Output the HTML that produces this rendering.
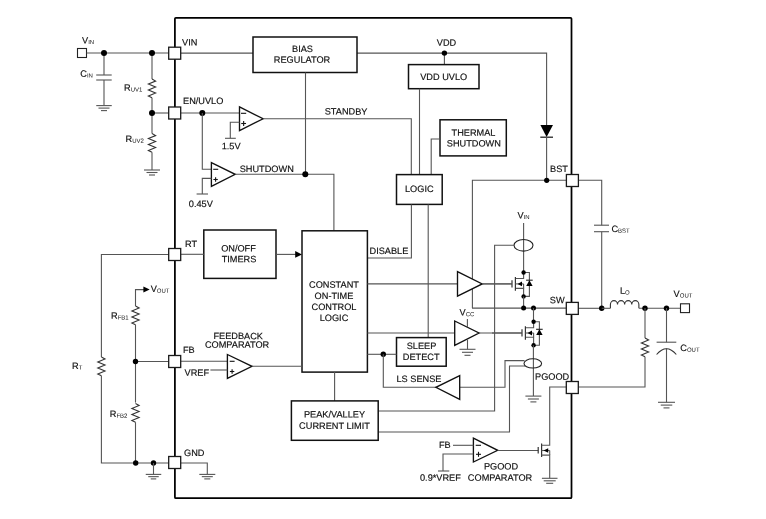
<!DOCTYPE html><html><head><meta charset="utf-8"><style>html,body{margin:0;padding:0;background:#fff;}svg{display:block;filter:grayscale(1);}text{font-family:"Liberation Sans",sans-serif;stroke:#000;stroke-width:0.15px;}</style></head><body><svg width="766" height="519" viewBox="0 0 766 519" font-family="Liberation Sans, sans-serif" fill="#111">
<rect width="766" height="519" fill="#fff"/>
<rect x="174.9" y="17.8" width="396.6" height="480.4" rx="1" fill="none" stroke="#000" stroke-width="1.75"/>
<rect x="77.5" y="48.5" width="9" height="9" fill="#fff" stroke="#222" stroke-width="1.1"/>
<text transform="translate(82,43.4) rotate(0.05) scale(1,1)" font-size="9.2">V<tspan font-size="6.0" dy="0.7" style="stroke-width:0">IN</tspan></text>
<line x1="86.5" y1="53" x2="169" y2="53" stroke="#555" stroke-width="1.1"/>
<line x1="104" y1="53" x2="104" y2="75" stroke="#555" stroke-width="1.1"/>
<line x1="96.2" y1="75" x2="111.7" y2="75" stroke="#555" stroke-width="1.1"/>
<line x1="96.2" y1="80" x2="111.7" y2="80" stroke="#555" stroke-width="1.1"/>
<line x1="104" y1="80" x2="104" y2="105.6" stroke="#555" stroke-width="1.1"/>
<line x1="96.25" y1="105.6" x2="111.75" y2="105.6" stroke="#555" stroke-width="1.1"/>
<line x1="98.5" y1="108.1" x2="109.5" y2="108.1" stroke="#555" stroke-width="1.1"/>
<line x1="101.0" y1="110.6" x2="107.0" y2="110.6" stroke="#555" stroke-width="1.1"/>
<text transform="translate(80.3,76.8) rotate(0.05) scale(1,1)" font-size="9.2">C<tspan font-size="6.0" dy="0.7" style="stroke-width:0">IN</tspan></text>
<line x1="152" y1="53" x2="152" y2="79.1" stroke="#555" stroke-width="1.1"/>
<path d="M152,79.1 l3.6,2 l-7.2,3 l7.2,3 l-7.2,3 l7.2,3 l-7.2,3 l3.6,1.7" fill="none" stroke="#333" stroke-width="1.1" stroke-linejoin="miter"/>
<line x1="152" y1="97.8" x2="152" y2="133.6" stroke="#555" stroke-width="1.1"/>
<text transform="translate(124,90.7) rotate(0.05) scale(1,1)" font-size="9.2">R<tspan font-size="6.0" dy="0.7" style="stroke-width:0">UV1</tspan></text>
<line x1="152" y1="113" x2="169" y2="113" stroke="#555" stroke-width="1.1"/>
<path d="M152,133.6 l3.6,2 l-7.2,3 l7.2,3 l-7.2,3 l7.2,3 l-7.2,3 l3.6,1.7" fill="none" stroke="#333" stroke-width="1.1" stroke-linejoin="miter"/>
<line x1="152" y1="152.3" x2="152" y2="170" stroke="#555" stroke-width="1.1"/>
<line x1="144.0" y1="170" x2="160.0" y2="170" stroke="#555" stroke-width="1.1"/>
<line x1="146.5" y1="172.5" x2="157.5" y2="172.5" stroke="#555" stroke-width="1.1"/>
<line x1="149.0" y1="175.0" x2="155.0" y2="175.0" stroke="#555" stroke-width="1.1"/>
<text transform="translate(125.5,142.0) rotate(0.05) scale(1,1)" font-size="9.2">R<tspan font-size="6.0" dy="0.7" style="stroke-width:0">UV2</tspan></text>
<circle cx="104" cy="53" r="3" fill="#000"/>
<circle cx="152" cy="53" r="3" fill="#000"/>
<circle cx="152" cy="113" r="3" fill="#000"/>
<polyline points="169,254.5 101.4,254.5 101.4,357" fill="none" stroke="#555" stroke-width="1.1"/>
<path d="M101.4,357 l3.6,2 l-7.2,3 l7.2,3 l-7.2,3 l7.2,3 l-7.2,3 l3.6,1.7" fill="none" stroke="#333" stroke-width="1.1" stroke-linejoin="miter"/>
<polyline points="101.4,375.7 101.4,463 169,463" fill="none" stroke="#555" stroke-width="1.1"/>
<text transform="translate(72,368.9) rotate(0.05) scale(1,1)" font-size="9.2">R<tspan font-size="6.0" dy="0.7" style="stroke-width:0">T</tspan></text>
<polyline points="135.5,306 135.5,289.6 144,289.6" fill="none" stroke="#555" stroke-width="1.1"/>
<polygon points="149.7,289.5 143.4,286.4 143.4,292.6" fill="#000"/>
<text transform="translate(150.7,292.0) rotate(0.05) scale(1,1)" font-size="9.2">V<tspan font-size="6.0" dy="0.7" style="stroke-width:0">OUT</tspan></text>
<path d="M135.5,306 l3.6,2 l-7.2,3 l7.2,3 l-7.2,3 l7.2,3 l-7.2,3 l3.6,1.7" fill="none" stroke="#333" stroke-width="1.1" stroke-linejoin="miter"/>
<line x1="135.5" y1="324.7" x2="135.5" y2="402.6" stroke="#555" stroke-width="1.1"/>
<text transform="translate(111,318.8) rotate(0.05) scale(1,1)" font-size="9.2">R<tspan font-size="6.0" dy="0.7" style="stroke-width:0">FB1</tspan></text>
<line x1="135.5" y1="361.5" x2="169" y2="361.5" stroke="#555" stroke-width="1.1"/>
<circle cx="135.5" cy="361.5" r="2.7" fill="#000"/>
<path d="M135.5,403.5 l3.6,2 l-7.2,3 l7.2,3 l-7.2,3 l7.2,3 l-7.2,3 l3.6,1.7" fill="none" stroke="#333" stroke-width="1.1" stroke-linejoin="miter"/>
<line x1="135.5" y1="422.2" x2="135.5" y2="463" stroke="#555" stroke-width="1.1"/>
<text transform="translate(109.8,417.1) rotate(0.05) scale(1,1)" font-size="9.2">R<tspan font-size="6.0" dy="0.7" style="stroke-width:0">FB2</tspan></text>
<circle cx="135.7" cy="463" r="2.7" fill="#000"/>
<circle cx="153.5" cy="463" r="2.7" fill="#000"/>
<line x1="153.5" y1="463" x2="153.5" y2="474.4" stroke="#555" stroke-width="1.1"/>
<line x1="145.75" y1="474.4" x2="161.25" y2="474.4" stroke="#555" stroke-width="1.1"/>
<line x1="148.25" y1="476.65" x2="158.75" y2="476.65" stroke="#555" stroke-width="1.1"/>
<line x1="150.75" y1="478.9" x2="156.25" y2="478.9" stroke="#555" stroke-width="1.1"/>
<polyline points="181,463 207.3,463 207.3,474.4" fill="none" stroke="#555" stroke-width="1.1"/>
<line x1="199.3" y1="474.4" x2="215.3" y2="474.4" stroke="#555" stroke-width="1.1"/>
<line x1="201.8" y1="476.65" x2="212.8" y2="476.65" stroke="#555" stroke-width="1.1"/>
<line x1="204.3" y1="478.9" x2="210.3" y2="478.9" stroke="#555" stroke-width="1.1"/>
<line x1="181" y1="53.1" x2="253" y2="53.1" stroke="#555" stroke-width="1.1"/>
<polyline points="357,53.1 546.6,53.1 546.6,125" fill="none" stroke="#555" stroke-width="1.1"/>
<rect x="253" y="37" width="104" height="35.5" fill="#fff" stroke="#111" stroke-width="1.5"/>
<text transform="translate(302.5,52.0) rotate(0.05) scale(1,1)" font-size="9.2" text-anchor="middle">BIAS</text>
<text transform="translate(302,62.8) rotate(0.05) scale(1,1)" font-size="9.2" text-anchor="middle">REGULATOR</text>
<line x1="305.5" y1="72.5" x2="305.5" y2="174.3" stroke="#555" stroke-width="1.1"/>
<line x1="444.4" y1="53.1" x2="444.4" y2="64.6" stroke="#555" stroke-width="1.1"/>
<circle cx="444.4" cy="53.1" r="2.7" fill="#000"/>
<text transform="translate(446.5,45.7) rotate(0.05) scale(1,1)" font-size="9.2" text-anchor="middle">VDD</text>
<rect x="408.5" y="64.6" width="70.5" height="24.10000000000001" fill="#fff" stroke="#111" stroke-width="1.5"/>
<text transform="translate(443.7,80.0) rotate(0.05) scale(1,1)" font-size="9.2" text-anchor="middle">VDD UVLO</text>
<line x1="419.5" y1="88.7" x2="419.5" y2="174.6" stroke="#555" stroke-width="1.1"/>
<polygon points="540.4,125 553,125 546.6,137" fill="#000"/>
<line x1="540.3" y1="137.2" x2="553" y2="137.2" stroke="#222" stroke-width="1.3"/>
<line x1="546.6" y1="137" x2="546.6" y2="180.3" stroke="#555" stroke-width="1.1"/>
<line x1="181" y1="113" x2="239.5" y2="113" stroke="#555" stroke-width="1.1"/>
<circle cx="202.3" cy="113" r="3" fill="#000"/>
<polyline points="202.3,113 202.3,169.3 211.4,169.3" fill="none" stroke="#555" stroke-width="1.1"/>
<polygon points="239.5,106.9 263.1,118.75 239.5,130.7" fill="#fff" stroke="#111" stroke-width="1.35"/>
<line x1="241" y1="113.3" x2="246.2" y2="113.3" stroke="#111" stroke-width="1.1"/>
<line x1="241.25" y1="123.5" x2="246.05" y2="123.5" stroke="#111" stroke-width="1.1"/>
<line x1="243.65" y1="121.1" x2="243.65" y2="125.9" stroke="#111" stroke-width="1.1"/>
<polyline points="239.5,122.2 230.3,122.2 230.3,138.3" fill="none" stroke="#555" stroke-width="1.1"/>
<line x1="225" y1="138.3" x2="235.8" y2="138.3" stroke="#555" stroke-width="1.1"/>
<text transform="translate(221.7,149.2) rotate(0.05) scale(1,1)" font-size="9.2" text-anchor="start">1.5V</text>
<polyline points="263.1,118.7 411.3,118.7 411.3,174.6" fill="none" stroke="#555" stroke-width="1.1"/>
<text transform="translate(324.7,114.6) rotate(0.05) scale(1,1)" font-size="9.2" text-anchor="start">STANDBY</text>
<polygon points="211.4,162.6 235.2,174.3 211.4,186.4" fill="#fff" stroke="#111" stroke-width="1.35"/>
<line x1="213.2" y1="169.3" x2="218.2" y2="169.3" stroke="#111" stroke-width="1.1"/>
<line x1="213.4" y1="179.5" x2="217.79999999999998" y2="179.5" stroke="#111" stroke-width="1.1"/>
<line x1="215.6" y1="177.3" x2="215.6" y2="181.7" stroke="#111" stroke-width="1.1"/>
<polyline points="211.4,178.4 202.3,178.4 202.3,194" fill="none" stroke="#555" stroke-width="1.1"/>
<line x1="196.6" y1="194" x2="208" y2="194" stroke="#555" stroke-width="1.1"/>
<text transform="translate(188.8,207.1) rotate(0.05) scale(1,1)" font-size="9.2" text-anchor="start">0.45V</text>
<text transform="translate(239.7,172.0) rotate(0.05) scale(1,1)" font-size="9.2" text-anchor="start">SHUTDOWN</text>
<polyline points="235.2,174.3 333.9,174.3 333.9,230.8" fill="none" stroke="#555" stroke-width="1.1"/>
<circle cx="305.3" cy="174.3" r="3" fill="#000"/>
<rect x="440" y="119.8" width="66.30000000000001" height="36.10000000000001" fill="#fff" stroke="#111" stroke-width="1.5"/>
<text transform="translate(473.5,135.7) rotate(0.05) scale(1,1)" font-size="9.2" text-anchor="middle">THERMAL</text>
<text transform="translate(473.8,146.5) rotate(0.05) scale(1,1)" font-size="9.2" text-anchor="middle">SHUTDOWN</text>
<polyline points="440,139 431.2,139 431.2,174.6" fill="none" stroke="#555" stroke-width="1.1"/>
<rect x="396.5" y="174.6" width="45.69999999999999" height="29.80000000000001" fill="#fff" stroke="#111" stroke-width="1.5"/>
<text transform="translate(419.3,192.0) rotate(0.05) scale(1,1)" font-size="9.2" text-anchor="middle">LOGIC</text>
<polyline points="411.4,204.4 411.4,258 367.4,258" fill="none" stroke="#555" stroke-width="1.1"/>
<text transform="translate(369.5,253.9) rotate(0.05) scale(1,1)" font-size="9.2" text-anchor="start">DISABLE</text>
<line x1="428.2" y1="204.4" x2="428.2" y2="337" stroke="#555" stroke-width="1.1"/>
<polyline points="472.4,308.1 472.4,180.3 566.5,180.3" fill="none" stroke="#555" stroke-width="1.1"/>
<circle cx="546.7" cy="180.3" r="2.6" fill="#000"/>
<polyline points="578.5,180.3 601.7,180.3 601.7,225.2" fill="none" stroke="#555" stroke-width="1.1"/>
<line x1="594" y1="225.2" x2="609" y2="225.2" stroke="#555" stroke-width="1.1"/>
<line x1="594" y1="231.7" x2="609" y2="231.7" stroke="#555" stroke-width="1.1"/>
<line x1="601.7" y1="231.7" x2="601.7" y2="308.3" stroke="#555" stroke-width="1.1"/>
<text transform="translate(611.4,232.1) rotate(0.05) scale(1,1)" font-size="9.2">C<tspan font-size="6.0" dy="0.7" style="stroke-width:0">BST</tspan></text>
<rect x="203.8" y="230" width="72.19999999999999" height="48.39999999999998" fill="#fff" stroke="#111" stroke-width="1.5"/>
<text transform="translate(238.5,251.4) rotate(0.05) scale(1,1)" font-size="9.2" text-anchor="middle">ON/OFF</text>
<text transform="translate(239,262.2) rotate(0.05) scale(1,1)" font-size="9.2" text-anchor="middle">TIMERS</text>
<line x1="181" y1="254.3" x2="203.8" y2="254.3" stroke="#555" stroke-width="1.1"/>
<line x1="276" y1="254.4" x2="296" y2="254.4" stroke="#555" stroke-width="1.1"/>
<polygon points="302,254.4 295.2,251 295.2,257.8" fill="#000"/>
<rect x="302" y="230.8" width="65.39999999999998" height="141.3" fill="#fff" stroke="#111" stroke-width="1.5"/>
<text transform="translate(334,287.8) rotate(0.05) scale(1,1)" font-size="9.2" text-anchor="middle">CONSTANT</text>
<text transform="translate(334,299.1) rotate(0.05) scale(1,1)" font-size="9.2" text-anchor="middle">ON-TIME</text>
<text transform="translate(334,310.1) rotate(0.05) scale(1,1)" font-size="9.2" text-anchor="middle">CONTROL</text>
<text transform="translate(334,320.9) rotate(0.05) scale(1,1)" font-size="9.2" text-anchor="middle">LOGIC</text>
<text transform="translate(517.4,218.4) rotate(0.05) scale(1,1)" font-size="9.2">V<tspan font-size="6.0" dy="0.7" style="stroke-width:0">IN</tspan></text>
<line x1="523.6" y1="223" x2="523.6" y2="272.5" stroke="#555" stroke-width="1.1"/>
<ellipse cx="523.5" cy="245.3" rx="9.5" ry="5.8" fill="none" stroke="#222" stroke-width="1.1"/>
<polyline points="514,245.3 494.6,245.3 494.6,411 378.2,411" fill="none" stroke="#555" stroke-width="1.1"/>
<line x1="367.4" y1="283.9" x2="457.5" y2="283.9" stroke="#555" stroke-width="1.1"/>
<polygon points="457.5,271.6 482.2,283.9 457.5,296.2" fill="#fff" stroke="#111" stroke-width="1.35"/>
<line x1="482.2" y1="283.9" x2="512" y2="283.9" stroke="#555" stroke-width="1.1"/>
<polyline points="523.6,272.5 523.6,278.5 515.4,278.5" fill="none" stroke="#555" stroke-width="1.1"/>
<polyline points="523.6,296.4 523.6,288.4 515.4,288.4" fill="none" stroke="#555" stroke-width="1.1"/>
<line x1="515.4" y1="277.1" x2="515.4" y2="290.79999999999995" stroke="#333" stroke-width="1.2"/>
<line x1="512.0" y1="280.2" x2="512.0" y2="287.5" stroke="#333" stroke-width="1.2"/>
<line x1="482.0" y1="283.9" x2="512.0" y2="283.9" stroke="#555" stroke-width="1.1"/>
<line x1="515.4" y1="283.9" x2="523.6" y2="283.9" stroke="#555" stroke-width="1.1"/>
<polygon points="517.6,283.9 522.0,281.5 522.0,286.29999999999995" fill="#000"/>
<line x1="523.6" y1="283.9" x2="523.6" y2="288.4" stroke="#555" stroke-width="1.1"/>
<polyline points="523.6,272.5 529.4,272.5 529.4,296.4 523.6,296.4" fill="none" stroke="#555" stroke-width="1.1"/>
<polygon points="529.4,280.2 532.6,286.0 526.1999999999999,286.0" fill="#000"/>
<line x1="526.1" y1="280.2" x2="532.6999999999999" y2="280.2" stroke="#222" stroke-width="1.1"/>
<circle cx="523.6" cy="272.5" r="2.2" fill="#000"/>
<circle cx="523.6" cy="296.4" r="2.2" fill="#000"/>
<polyline points="523.6,296.4 523.6,307.7" fill="none" stroke="#555" stroke-width="1.1"/>
<line x1="472" y1="308.1" x2="566" y2="308.1" stroke="#555" stroke-width="1.1"/>
<circle cx="523.6" cy="308.1" r="2.5" fill="#000"/>
<circle cx="533.5" cy="308.1" r="2.5" fill="#000"/>
<line x1="533.5" y1="308.1" x2="533.5" y2="321.7" stroke="#555" stroke-width="1.1"/>
<line x1="367.4" y1="333" x2="454.7" y2="333" stroke="#555" stroke-width="1.1"/>
<polygon points="454.7,321 479,333 454.7,345.3" fill="#fff" stroke="#111" stroke-width="1.35"/>
<line x1="479" y1="333" x2="522" y2="333" stroke="#555" stroke-width="1.1"/>
<polyline points="533.6,321.7 533.6,327.7 525.4,327.7" fill="none" stroke="#555" stroke-width="1.1"/>
<polyline points="533.6,345.3 533.6,337.3 525.4,337.3" fill="none" stroke="#555" stroke-width="1.1"/>
<line x1="525.4" y1="326.3" x2="525.4" y2="339.7" stroke="#333" stroke-width="1.2"/>
<line x1="522.0" y1="329.3" x2="522.0" y2="336.6" stroke="#333" stroke-width="1.2"/>
<line x1="492.0" y1="333" x2="522.0" y2="333" stroke="#555" stroke-width="1.1"/>
<line x1="525.4" y1="333" x2="533.6" y2="333" stroke="#555" stroke-width="1.1"/>
<polygon points="527.6,333 532.0,330.6 532.0,335.4" fill="#000"/>
<line x1="533.6" y1="333" x2="533.6" y2="337.3" stroke="#555" stroke-width="1.1"/>
<polyline points="533.6,321.7 539.4,321.7 539.4,345.3 533.6,345.3" fill="none" stroke="#555" stroke-width="1.1"/>
<polygon points="539.4,329.3 542.6,335.1 536.1999999999999,335.1" fill="#000"/>
<line x1="536.1" y1="329.3" x2="542.6999999999999" y2="329.3" stroke="#222" stroke-width="1.1"/>
<circle cx="533.6" cy="321.7" r="2.2" fill="#000"/>
<circle cx="533.6" cy="345.3" r="2.2" fill="#000"/>
<text transform="translate(459.6,315.5) rotate(0.05) scale(1,1)" font-size="9.2">V<tspan font-size="6.0" dy="0.7" style="stroke-width:0">CC</tspan></text>
<line x1="467.4" y1="319" x2="467.4" y2="327.3" stroke="#555" stroke-width="1.1"/>
<line x1="467.5" y1="339.3" x2="467.5" y2="349.3" stroke="#555" stroke-width="1.1"/>
<line x1="459.5" y1="349.3" x2="475.5" y2="349.3" stroke="#555" stroke-width="1.1"/>
<line x1="462.0" y1="352.3" x2="473.0" y2="352.3" stroke="#555" stroke-width="1.1"/>
<line x1="464.5" y1="355.3" x2="470.5" y2="355.3" stroke="#555" stroke-width="1.1"/>
<line x1="533.4" y1="345.3" x2="533.4" y2="396.1" stroke="#555" stroke-width="1.1"/>
<ellipse cx="532.8" cy="363.4" rx="8.8" ry="4.6" fill="none" stroke="#222" stroke-width="1.1"/>
<line x1="525.4" y1="396.1" x2="541.4" y2="396.1" stroke="#555" stroke-width="1.1"/>
<line x1="527.9" y1="399.0" x2="538.9" y2="399.0" stroke="#555" stroke-width="1.1"/>
<line x1="530.4" y1="401.90000000000003" x2="536.4" y2="401.90000000000003" stroke="#555" stroke-width="1.1"/>
<polyline points="524.5,360.6 505,360.6 505,387.2 459.7,387.2" fill="none" stroke="#555" stroke-width="1.1"/>
<polyline points="525,366 509.5,366 509.5,432 378.2,432" fill="none" stroke="#555" stroke-width="1.1"/>
<rect x="396.5" y="337.6" width="49.69999999999999" height="28.599999999999966" fill="#fff" stroke="#111" stroke-width="1.5"/>
<text transform="translate(421.5,348.9) rotate(0.05) scale(1,1)" font-size="9.2" text-anchor="middle">SLEEP</text>
<text transform="translate(421.2,360.0) rotate(0.05) scale(1,1)" font-size="9.2" text-anchor="middle">DETECT</text>
<polyline points="367.4,354.3 396.5,354.3" fill="none" stroke="#555" stroke-width="1.1"/>
<circle cx="383.3" cy="354.3" r="2.7" fill="#000"/>
<polyline points="383.3,354.3 383.3,387.3 436,387.3" fill="none" stroke="#555" stroke-width="1.1"/>
<polygon points="459.7,375.6 435.9,387.3 459.7,399.4" fill="#fff" stroke="#111" stroke-width="1.35"/>
<text transform="translate(396.5,382.0) rotate(0.05) scale(1,1)" font-size="9.2" text-anchor="start">LS SENSE</text>
<line x1="334.6" y1="372.1" x2="334.6" y2="400.9" stroke="#555" stroke-width="1.1"/>
<rect x="291.4" y="400.9" width="86.80000000000001" height="39.400000000000034" fill="#fff" stroke="#111" stroke-width="1.5"/>
<text transform="translate(334.5,417.6) rotate(0.05) scale(1,1)" font-size="9.2" text-anchor="middle">PEAK/VALLEY</text>
<text transform="translate(334.5,428.9) rotate(0.05) scale(1,1)" font-size="9.2" text-anchor="middle">CURRENT LIMIT</text>
<line x1="181" y1="361.3" x2="227.4" y2="361.3" stroke="#555" stroke-width="1.1"/>
<polygon points="227.4,354.5 252,366.3 227.4,378.3" fill="#fff" stroke="#111" stroke-width="1.35"/>
<line x1="229.7" y1="361.3" x2="234.6" y2="361.3" stroke="#111" stroke-width="1.1"/>
<line x1="229.9" y1="371.5" x2="234.29999999999998" y2="371.5" stroke="#111" stroke-width="1.1"/>
<line x1="232.1" y1="369.3" x2="232.1" y2="373.7" stroke="#111" stroke-width="1.1"/>
<line x1="210.4" y1="370" x2="227.4" y2="370" stroke="#555" stroke-width="1.1"/>
<text transform="translate(184.6,375.7) rotate(0.05) scale(1,1)" font-size="9.2" text-anchor="start">VREF</text>
<text transform="translate(213.4,339.1) rotate(0.05) scale(1,1)" font-size="9.2" text-anchor="start">FEEDBACK</text>
<text transform="translate(204.9,347.7) rotate(0.05) scale(1,1)" font-size="9.2" text-anchor="start">COMPARATOR</text>
<line x1="252" y1="366.3" x2="302" y2="366.3" stroke="#555" stroke-width="1.1"/>
<line x1="578" y1="308.3" x2="601.7" y2="308.3" stroke="#555" stroke-width="1.1"/>
<circle cx="601.7" cy="308.3" r="2.7" fill="#000"/>
<path d="M610.4,308.3 V304.6 a3.56,4 0 0 1 7.12,0 a3.56,4 0 0 1 7.12,0 a3.56,4 0 0 1 7.12,0 a3.56,4 0 0 1 7.12,0 V308.3" fill="none" stroke="#333" stroke-width="1.1"/>
<line x1="601.7" y1="308.3" x2="610.4" y2="308.3" stroke="#555" stroke-width="1.1"/>
<line x1="638.9" y1="308.3" x2="680.3" y2="308.3" stroke="#555" stroke-width="1.1"/>
<circle cx="645" cy="308.3" r="2.7" fill="#000"/>
<circle cx="666.5" cy="308.3" r="2.7" fill="#000"/>
<text transform="translate(620,293.7) rotate(0.05) scale(1,1)" font-size="9.2">L<tspan font-size="6.0" dy="0.7" style="stroke-width:0">O</tspan></text>
<rect x="680.5" y="303.8" width="9" height="8.8" fill="#fff" stroke="#222" stroke-width="1.1"/>
<text transform="translate(673.6,296.9) rotate(0.05) scale(1,1)" font-size="9.2">V<tspan font-size="6.0" dy="0.7" style="stroke-width:0">OUT</tspan></text>
<line x1="645" y1="308" x2="645" y2="338" stroke="#555" stroke-width="1.1"/>
<path d="M645,338 l3.6,2 l-7.2,3 l7.2,3 l-7.2,3 l7.2,3 l-7.2,3 l3.6,1.7" fill="none" stroke="#333" stroke-width="1.1" stroke-linejoin="miter"/>
<polyline points="645,356.7 645,387 578,387" fill="none" stroke="#555" stroke-width="1.1"/>
<line x1="666.5" y1="308" x2="666.5" y2="342.2" stroke="#555" stroke-width="1.1"/>
<line x1="656.6" y1="342.2" x2="676.3" y2="342.2" stroke="#555" stroke-width="1.1"/>
<path d="M656.6,354.5 Q666.5,343 676.3,354.5" fill="none" stroke="#333" stroke-width="1.1"/>
<line x1="666.5" y1="348" x2="666.5" y2="402.3" stroke="#555" stroke-width="1.1"/>
<line x1="658.0" y1="402.3" x2="675.0" y2="402.3" stroke="#555" stroke-width="1.1"/>
<line x1="660.75" y1="405.1" x2="672.25" y2="405.1" stroke="#555" stroke-width="1.1"/>
<line x1="663.5" y1="407.90000000000003" x2="669.5" y2="407.90000000000003" stroke="#555" stroke-width="1.1"/>
<text transform="translate(680.3,351.0) rotate(0.05) scale(1,1)" font-size="9.2">C<tspan font-size="6.0" dy="0.7" style="stroke-width:0">OUT</tspan></text>
<polygon points="473.4,438.2 497.7,450.3 473.4,462" fill="#fff" stroke="#111" stroke-width="1.35"/>
<line x1="475.7" y1="445.3" x2="481" y2="445.3" stroke="#111" stroke-width="1.1"/>
<line x1="476.0" y1="454.3" x2="481.0" y2="454.3" stroke="#111" stroke-width="1.1"/>
<line x1="478.5" y1="451.8" x2="478.5" y2="456.8" stroke="#111" stroke-width="1.1"/>
<text transform="translate(439,447.9) rotate(0.05) scale(1,1)" font-size="9.2" text-anchor="start">FB</text>
<line x1="453" y1="445.3" x2="473.4" y2="445.3" stroke="#555" stroke-width="1.1"/>
<polyline points="473.4,454 443,454 443,471" fill="none" stroke="#555" stroke-width="1.1"/>
<line x1="438" y1="471" x2="449.3" y2="471" stroke="#555" stroke-width="1.1"/>
<text transform="translate(420,480.8) rotate(0.05) scale(1,1)" font-size="9.2" text-anchor="start">0.9*VREF</text>
<text transform="translate(501,469.4) rotate(0.05) scale(1,1)" font-size="9.2" text-anchor="middle">PGOOD</text>
<text transform="translate(500,480.8) rotate(0.05) scale(1,1)" font-size="9.2" text-anchor="middle">COMPARATOR</text>
<line x1="497.7" y1="450.5" x2="538.2" y2="450.5" stroke="#555" stroke-width="1.1"/>
<line x1="538.2" y1="446.9" x2="538.2" y2="453.6" stroke="#333" stroke-width="1.2"/>
<line x1="541.6" y1="443.6" x2="541.6" y2="457" stroke="#333" stroke-width="1.2"/>
<polyline points="566,387 549.7,387 549.7,445.3 541.6,445.3" fill="none" stroke="#555" stroke-width="1.1"/>
<line x1="541.6" y1="450.5" x2="549.7" y2="450.5" stroke="#555" stroke-width="1.1"/>
<polygon points="543.6,450.5 548.2,448.2 548.2,452.8" fill="#000"/>
<polyline points="541.6,455.1 549.7,455.1 549.7,478.3" fill="none" stroke="#555" stroke-width="1.1"/>
<line x1="549.7" y1="450.5" x2="549.7" y2="455.1" stroke="#555" stroke-width="1.1"/>
<line x1="541.9000000000001" y1="478.3" x2="557.5" y2="478.3" stroke="#555" stroke-width="1.1"/>
<line x1="543.7" y1="480.8" x2="555.7" y2="480.8" stroke="#555" stroke-width="1.1"/>
<line x1="546.2" y1="483.3" x2="553.2" y2="483.3" stroke="#555" stroke-width="1.1"/>
<rect x="168.7" y="47.2" width="12" height="12" fill="#fff" stroke="#1a1a1a" stroke-width="1.3"/>
<rect x="168.7" y="107.0" width="12" height="12" fill="#fff" stroke="#1a1a1a" stroke-width="1.3"/>
<rect x="168.7" y="248.5" width="12" height="12" fill="#fff" stroke="#1a1a1a" stroke-width="1.3"/>
<rect x="168.7" y="355.5" width="12" height="12" fill="#fff" stroke="#1a1a1a" stroke-width="1.3"/>
<rect x="168.7" y="456.5" width="12" height="12" fill="#fff" stroke="#1a1a1a" stroke-width="1.3"/>
<rect x="566.4" y="174.5" width="12" height="12" fill="#fff" stroke="#1a1a1a" stroke-width="1.3"/>
<rect x="566.3" y="302.4" width="12" height="12" fill="#fff" stroke="#1a1a1a" stroke-width="1.3"/>
<rect x="566.3" y="381.5" width="12" height="12" fill="#fff" stroke="#1a1a1a" stroke-width="1.3"/>
<text transform="translate(182,45.4) rotate(0.05) scale(1,1)" font-size="9.2" text-anchor="start">VIN</text>
<text transform="translate(183,103.9) rotate(0.05) scale(1,1)" font-size="9.2" text-anchor="start">EN/UVLO</text>
<text transform="translate(185,246.9) rotate(0.05) scale(1,1)" font-size="9.2" text-anchor="start">RT</text>
<text transform="translate(183,352.9) rotate(0.05) scale(1,1)" font-size="9.2" text-anchor="start">FB</text>
<text transform="translate(184,455.9) rotate(0.05) scale(1,1)" font-size="9.2" text-anchor="start">GND</text>
<text transform="translate(550,171.9) rotate(0.05) scale(1,1)" font-size="9.2" text-anchor="start">BST</text>
<text transform="translate(549.8,303.3) rotate(0.05) scale(1,1)" font-size="9.2" text-anchor="start">SW</text>
<text transform="translate(535,379.7) rotate(0.05) scale(1,1)" font-size="9.2" text-anchor="start">PGOOD</text>
</svg></body></html>
